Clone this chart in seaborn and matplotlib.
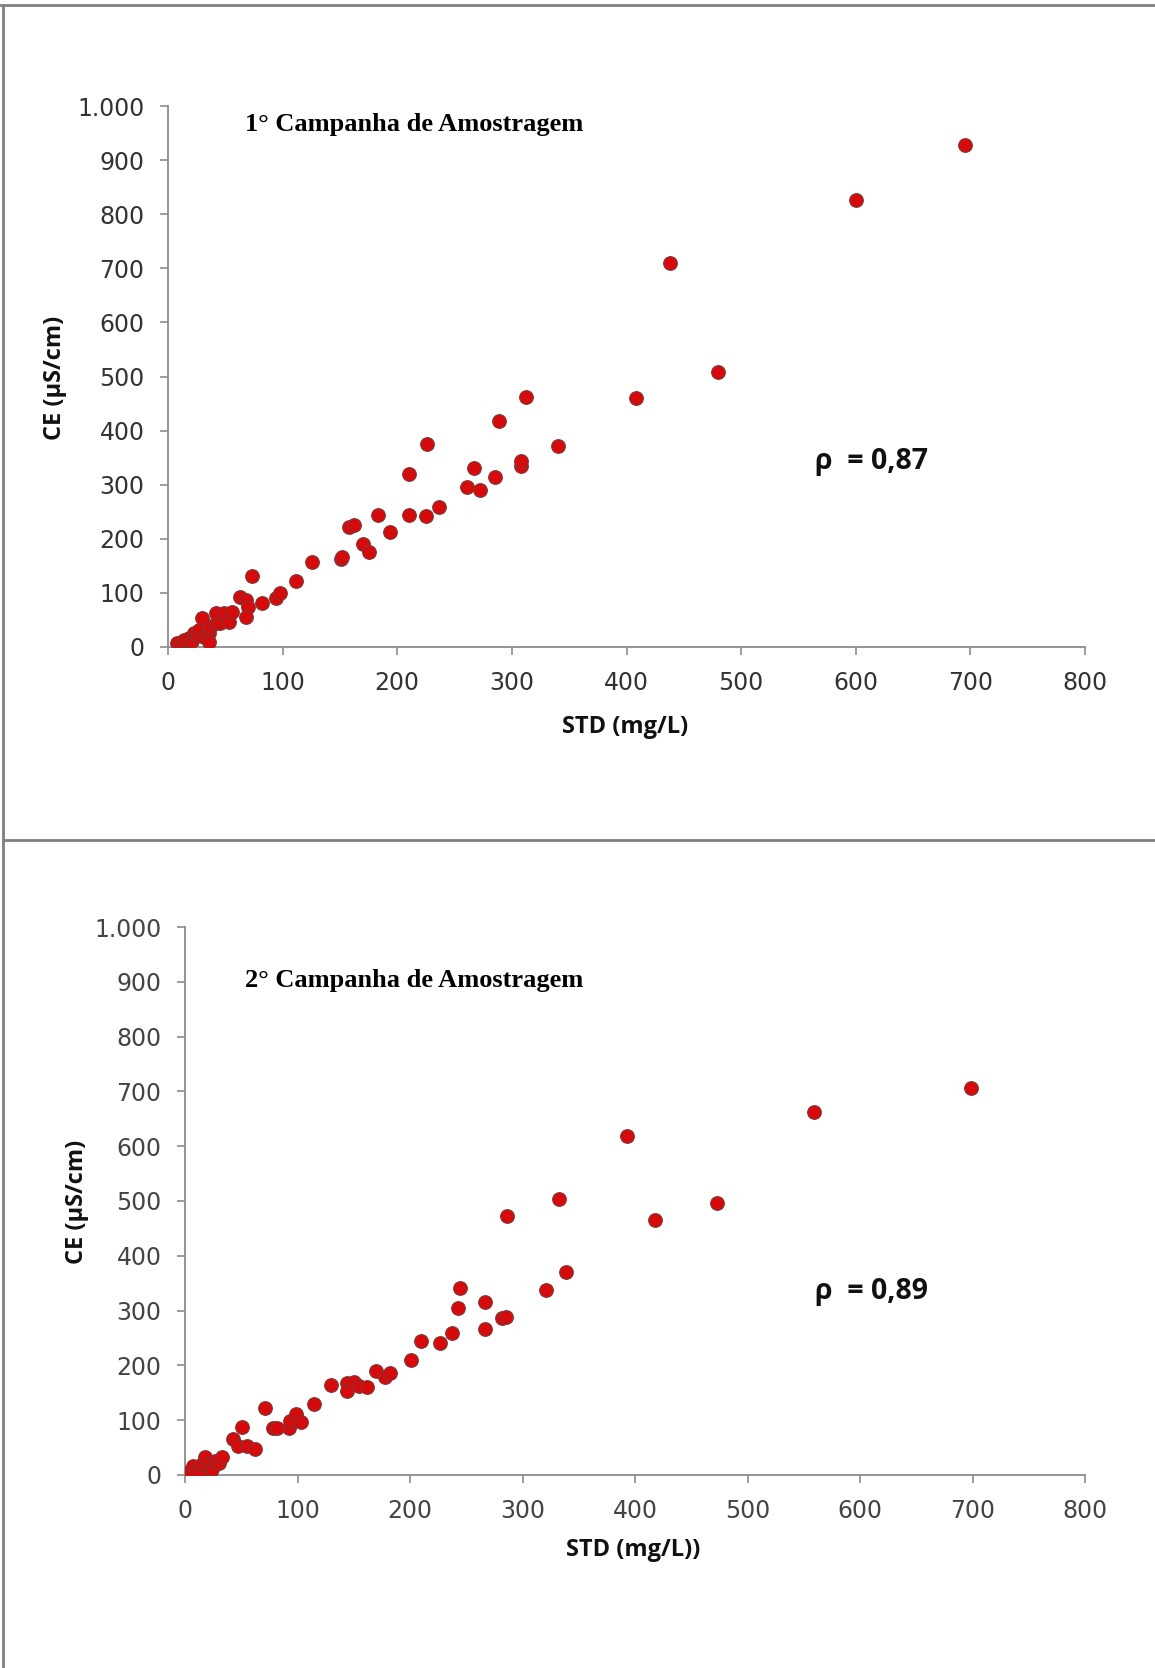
import matplotlib
matplotlib.use("Agg")
import matplotlib.pyplot as plt
import matplotlib.lines as mlines
import seaborn as sns
import pandas as pd

# ---- Data ----
std_c1 = [7.6, 11, 14, 18, 21, 23, 25, 27, 30, 31, 36, 36, 37, 42, 42, 45, 49, 53, 56,
          63, 68, 70, 68, 73, 82, 94, 98, 112, 126, 151, 152, 158, 162, 170, 175, 183,
          194, 210, 210, 225, 226, 236, 261, 267, 272, 285, 289, 308, 308, 312, 340,
          408, 438, 480, 600, 695]
ce_c1 = [6.8, 2, 13, 16, 12, 25, 22, 31, 53, 19, 25, 9, 37, 44, 62, 44, 62, 47, 65,
         93, 87, 74, 56, 132, 82, 90, 99, 122, 158, 163, 167, 222, 225, 191, 176, 244,
         213, 244, 320, 242, 375, 259, 295, 330, 291, 314, 418, 334, 344, 462, 371,
         460, 710, 508, 827, 927]

std_c2 = [4, 7, 9, 13, 15, 18, 21, 22, 24, 27, 30, 33, 43, 47, 51, 55, 62, 71, 78, 82,
          92, 93, 99, 103, 115, 130, 144, 144, 150, 155, 162, 170, 178, 182, 201, 210,
          227, 237, 243, 244, 267, 267, 282, 285, 321, 332, 339, 286, 393, 418, 473,
          559, 699]
ce_c2 = [8, 17, 5, 8, 20, 32, 20, 3, 11, 26, 22, 32, 65, 53, 88, 53, 47, 123, 85, 86,
         85, 99, 111, 97, 129, 164, 168, 153, 169, 162, 161, 190, 178, 186, 210, 244,
         240, 259, 304, 341, 316, 267, 287, 288, 337, 503, 370, 472, 618, 466, 497,
         663, 706]

x_ticks = [0, 100, 200, 300, 400, 500, 600, 700, 800]
y_ticks = [0, 100, 200, 300, 400, 500, 600, 700, 800, 900, 1000]
y_tick_labels = ["0", "100", "200", "300", "400", "500", "600", "700", "800", "900", "1.000"]

titles = ["1° Campanha de Amostragem", "2° Campanha de Amostragem"]
rhos = ["ρ  = 0,87", "ρ  = 0,89"]
xlabels = ["STD (mg/L)", "STD (mg/L))"]
ylabel = "CE (µS/cm)"

df1 = pd.DataFrame({"STD": std_c1, "CE": ce_c1})
df2 = pd.DataFrame({"STD": std_c2, "CE": ce_c2})

sns.set_style("ticks")
plt.rcParams["font.family"] = ["DejaVu Sans"]

W, H = 1155, 1668
fig = plt.figure(figsize=(W / 100, H / 100), dpi=100)

def px_axes(left, top, right, bottom):
    return fig.add_axes([left / W, 1 - bottom / H, (right - left) / W, (bottom - top) / H])

ax1 = px_axes(168, 106, 1085, 647)
ax2 = px_axes(185, 927, 1085, 1475)

panels = [
    (ax1, df1, titles[0], rhos[0], xlabels[0], "#333333", (245, 124), (815, 461), (55, 378), (625, 727)),
    (ax2, df2, titles[1], rhos[1], xlabels[1], "#444444", (245, 980), (815, 1291), (77, 1202), (633, 1550)),
]

for ax, df, title, rho, xl, tcol, tpos, rpos, ylpos, xlpos in panels:
    sns.scatterplot(data=df, x="STD", y="CE", ax=ax, s=95, color="#d60a0a",
                    edgecolor="#8a3030", linewidth=0.9, legend=False, zorder=3)
    ax.set_xlim(0, 800)
    ax.set_ylim(0, 1000)
    ax.set_xticks(x_ticks)
    ax.set_yticks(y_ticks)
    ax.set_yticklabels(y_tick_labels)
    ax.set_xlabel("")
    ax.set_ylabel("")
    for sp in ["top", "right"]:
        ax.spines[sp].set_visible(False)
    for sp in ["left", "bottom"]:
        ax.spines[sp].set_color("#8c8c8c")
        ax.spines[sp].set_linewidth(1.3)
    ax.tick_params(axis="both", colors="#8c8c8c", length=6, width=1.2,
                   labelsize=17, labelcolor=tcol, pad=11)
    ax.patch.set_alpha(0)
    fig.text(tpos[0] / W, 1 - tpos[1] / H, title, family="Liberation Serif",
             fontweight="bold", fontsize=19, va="center", ha="left", color="black")
    fig.text(rpos[0] / W, 1 - rpos[1] / H, rho, fontweight="bold", fontsize=20.5,
             va="center", ha="left", color="#111111", family="Open Sans")
    fig.text(ylpos[0] / W, 1 - ylpos[1] / H, ylabel, fontweight="bold", fontsize=17,
             rotation=90, va="center", ha="center", color="#111111", family="Open Sans")
    fig.text(xlpos[0] / W, 1 - xlpos[1] / H, xl, fontweight="bold", fontsize=17,
             va="center", ha="center", color="#111111", family="Open Sans")

# frame lines of the composite figure
frame_col = "#808080"
fig.add_artist(mlines.Line2D([0, 1], [1 - 5 / H, 1 - 5 / H], transform=fig.transFigure,
                             color=frame_col, linewidth=2))
fig.add_artist(mlines.Line2D([3 / W, 3 / W], [0, 1 - 5 / H], transform=fig.transFigure,
                             color=frame_col, linewidth=2))
fig.add_artist(mlines.Line2D([3 / W, 1], [1 - 840 / H, 1 - 840 / H], transform=fig.transFigure,
                             color=frame_col, linewidth=2))

fig.savefig("out.png", dpi=100, facecolor="white")
